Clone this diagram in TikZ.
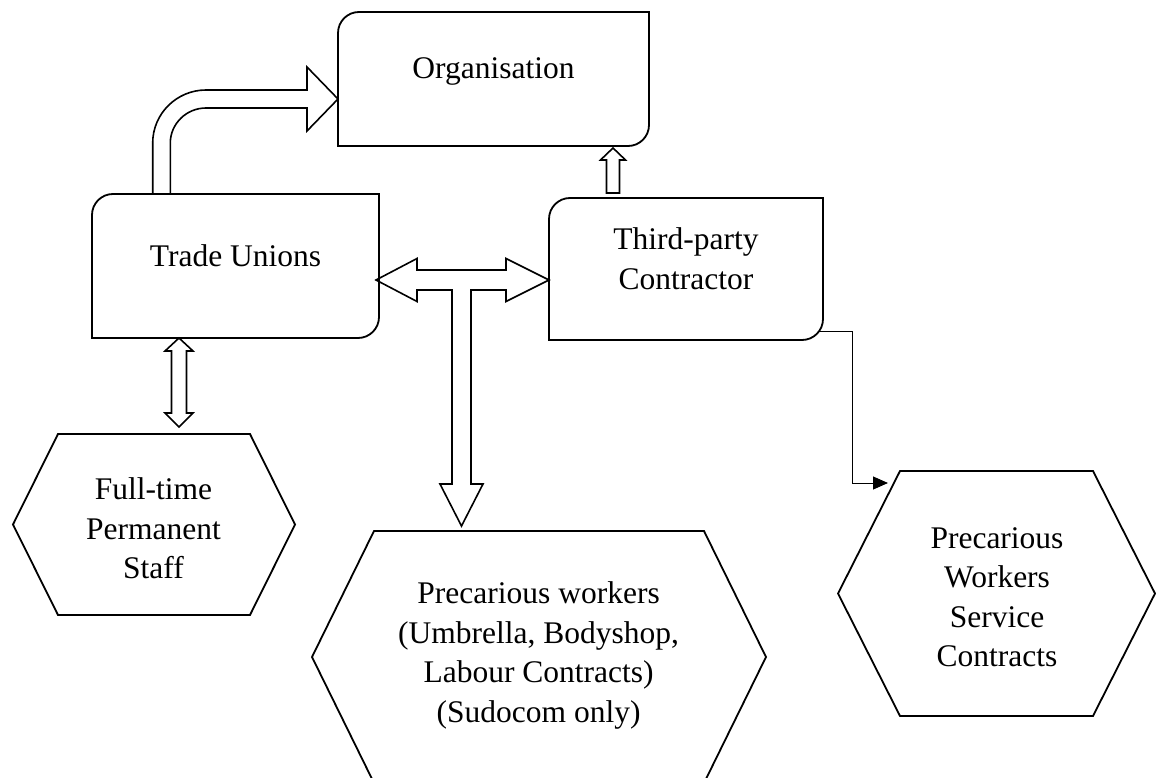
\documentclass[tikz,border=0pt]{standalone}
\usepackage{fontspec}
\setmainfont{Liberation Serif}
\usetikzlibrary{arrows.meta,calc}

% outline of a box with the top-left and bottom-right corners rounded
\newcommand\roundbox[1]{%
  \draw[outline] (#1.west) [rounded corners=21pt] -- (#1.north west) -- (#1.north)
    [sharp corners] -- (#1.north east) -- (#1.east)
    [rounded corners=21pt] -- (#1.south east) -- (#1.south)
    [sharp corners] -- (#1.south west) -- cycle;}
% outline of a flat-topped hexagon with side inset #2
\newcommand\hexoutline[2]{%
  \draw[outline] (#1.west) -- ([xshift=#2]#1.north west) -- ([xshift=-#2]#1.north east)
    -- (#1.east) -- ([xshift=-#2]#1.south east) -- ([xshift=#2]#1.south west) -- cycle;}

\begin{document}
\begin{tikzpicture}[x=1pt,y=-1pt,
  shapebb/.style={rectangle, draw=none, inner sep=0pt, outer sep=0pt},
  outline/.style={draw=black, line width=1.8pt, line join=miter},
  blockarrow/.style={draw=black, fill=white, line width=1.6pt, line join=miter},
  lbl/.style={inner sep=0pt, outer sep=0pt, align=center, text=black,
    font=\fontsize{31.5}{39.5}\selectfont},
  conn/.style={draw=black, line width=1pt, -{Triangle[length=15pt,width=13pt]}}]

\useasboundingbox (0,0) rectangle (1156,778);

% frames of the boxes and hexagons
\node[shapebb, minimum width=311pt, minimum height=134pt] (org) at (493.5,79) {};
\node[shapebb, minimum width=287pt, minimum height=144pt] (tu)  at (235.5,266) {};
\node[shapebb, minimum width=274pt, minimum height=142pt] (tp)  at (686,269) {};
\node[shapebb, minimum width=282pt, minimum height=181pt] (ft)  at (154,524.5) {};
\node[shapebb, minimum width=454pt, minimum height=252pt] (pw)  at (539,657) {};
\node[shapebb, minimum width=317pt, minimum height=245pt] (sc)  at (996.5,593.5) {};

% end points of the block arrows
\coordinate (bentFoot) at (161.5,0 |- tu.north);
\coordinate (bentTip)  at (0,99 -| org.west);
\coordinate (upTip)    at (613,148);
\coordinate (upFoot)   at (613,0 |- tp.north);
\coordinate (dTop)     at (179,0 |- tu.south);
\coordinate (dBottom)  at (179,427);
\coordinate (tLeft)    at (376,280);
\coordinate (tRight)   at (0,280 -| tp.west);
\coordinate (tDown)    at (461.5,526);
\coordinate (scIn)     at ([shift={(50,12)}]sc.north west);

% bent arrow: Trade Unions -> Organisation (quarter circles round the centre (206,143))
\draw[blockarrow] (bentFoot) -- ($(bentFoot)+(-8.8,0)$) -- (152.7,143)
  .. controls (152.7,113.7) and (176.7,90) .. (206,90)
  -- (307,90) -- (307,67) -- (bentTip) -- (307,131) -- (307,108) -- (206,108)
  .. controls (186.3,108) and (170.3,123.9) .. (170.3,143)
  -- ($(bentFoot)+(8.8,0)$) -- cycle;

% small arrow: Third-party Contractor -> Organisation
\draw[blockarrow] (upTip) -- ++(12.5,12) -- ++(-6,0) -- ($(upFoot)+(6.5,-5)$)
  -- ($(upFoot)+(-6.5,-5)$) -- (606.5,160) -- (600.5,160) -- cycle;

% double arrow: Trade Unions <-> Full-time Permanent Staff
\draw[blockarrow] (dTop) -- (193,351) -- (186.5,351) -- (186.5,413) -- (193,413)
  -- (dBottom) -- (165,413) -- (171.5,413) -- (171.5,351) -- (165,351) -- cycle;

% T-shaped arrow between the unions, the contractor and the precarious workers
\draw[blockarrow] (tLeft) -- (417,258.5) -- (417,270) -- (506,270) -- (506,258.5)
  -- (tRight) -- (506,301.5) -- (506,290) -- (471,290) -- (471,484) -- (483,484)
  -- (tDown) -- (440,484) -- (452,484) -- (452,290) -- (417,290) -- (417,301.5) -- cycle;

% boxes and hexagons
\roundbox{org}
\roundbox{tu}
\roundbox{tp}
\hexoutline{ft}{45pt}
\hexoutline{pw}{62pt}
\hexoutline{sc}{62pt}

% thin connector: Third-party Contractor -> service contracts
\draw[conn] ([shift={(-5,-9)}]tp.south east) -- ++(34,0) |- (scIn);

% texts
\node[lbl, anchor=base] (orgText) at (493.5,79) {Organisation};
\node[lbl, anchor=base] (tuText)  at (235.5,266) {Trade Unions};
\node[lbl] (tpText) at (686,261.5) {\strut Third-party\\\strut Contractor};
\node[lbl] (ftText) at (153.5,531.2) {\strut Full-time\\\strut Permanent\\\strut Staff};
\node[lbl] (pwText) at (538.6,655) {\strut Precarious workers\\\strut (Umbrella, Bodyshop,\\\strut Labour Contracts)\\\strut (Sudocom only)};
\node[lbl] (scText) at (997,599.7) {\strut Precarious\\\strut Workers\\\strut Service\\\strut Contracts};
\end{tikzpicture}
\end{document}
